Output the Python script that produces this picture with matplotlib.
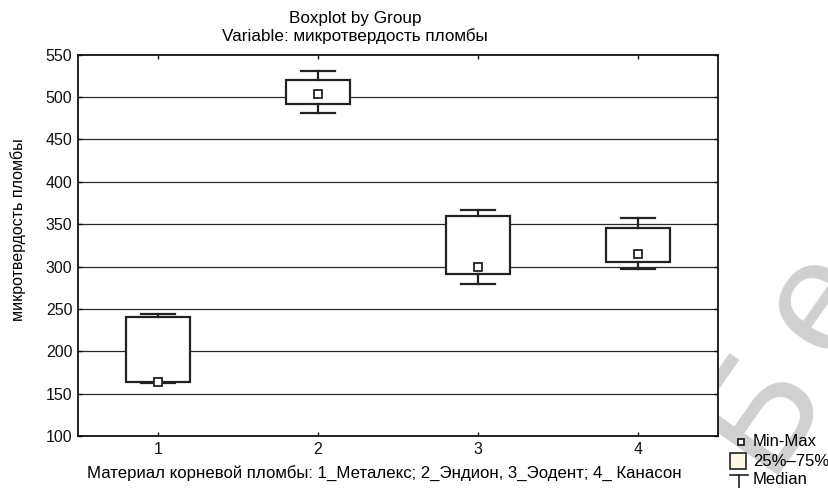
import matplotlib
matplotlib.use("Agg")
import matplotlib.pyplot as plt
from matplotlib.lines import Line2D
from matplotlib.patches import Rectangle

plt.rcParams['font.family'] = ['Liberation Sans', 'DejaVu Sans']

groups = [1, 2, 3, 4]
whisker_low = [163, 481, 279, 297]
q1 = [164, 492, 291, 305]
medians = [164, 504, 300, 315]
q3 = [240, 520, 360, 345]
whisker_high = [244, 531, 367, 357]
y_ticks = [100, 150, 200, 250, 300, 350, 400, 450, 500, 550]

title = "Boxplot by Group\nVariable: микротвердость пломбы"
ylabel = "микротвердость пломбы"
xlabel = "Материал корневой пломбы: 1_Металекс; 2_Эндион, 3_Эодент; 4_ Канасон"
legend_labels = ["Min-Max", "25%–75%", "Median"]
watermark_letters = ["Б", "е"]

W, H = 829, 488
fig = plt.figure(figsize=(W / 100, H / 100), dpi=100)
ax = fig.add_axes([0.094, 0.1066, 0.772, 0.7814])
ax.set_facecolor('white')

dark = '#222222'
for v in y_ticks[1:-1]:
    ax.axhline(v, color='#2a2a2a', lw=0.9, zorder=0.5)

stats = []
for i in range(len(groups)):
    stats.append(dict(med=medians[i], q1=q1[i], q3=q3[i],
                      whislo=whisker_low[i], whishi=whisker_high[i], fliers=[]))
ax.bxp(stats, positions=groups, widths=0.4, patch_artist=True, showfliers=False,
       boxprops=dict(facecolor='white', edgecolor=dark, linewidth=1.6),
       whiskerprops=dict(color=dark, linewidth=1.6),
       capprops=dict(color=dark, linewidth=1.6),
       medianprops=dict(linestyle='none'), capwidths=0.21, zorder=2)
ax.plot(groups, medians, 's', ms=5.5, mfc='white', mec=dark, mew=1.3, ls='none', zorder=3)

ax.set_ylim(100, 550)
ax.set_xlim(0.5, 4.5)
ax.set_yticks(y_ticks)
ax.set_xticks(groups, [str(g) for g in groups])
for sp in ax.spines.values():
    sp.set_linewidth(1.3)
    sp.set_color('#111111')
ax.tick_params(direction='in', top=True, right=True, length=3, width=1,
               labelsize=11.5, colors='#111111', pad=4)

fig.text(0.428, 0.978, title, ha='center', va='top', fontsize=12.3, linespacing=1.2)
fig.text(0.022, 0.53, ylabel, rotation=90, ha='center', va='center', fontsize=11.5)
fig.text(0.464, 0.03, xlabel, ha='center', va='center', fontsize=12.1)

def fx(px):
    return px / W

def fy(py):
    return 1 - py / H

# watermark (partially hidden behind the plot area, as in the reference)
for letter, (px, py) in zip(watermark_letters, [(762, 408), (820, 302)]):
    fig.text(fx(px), fy(py), letter, rotation=55, rotation_mode='anchor', fontsize=115,
             color='#d0d0d0', ha='center', va='center', zorder=-5)

# legend, drawn in figure pixel coordinates
fig.add_artist(Line2D([fx(741)], [fy(442)], marker='s', ms=5, mfc='white', mec=dark,
                      mew=1.3, ls='none', transform=fig.transFigure))
fig.add_artist(Rectangle((fx(730), fy(469)), fx(746) - fx(730), fy(453) - fy(469),
                         facecolor='#fdf7e6', edgecolor=dark, lw=1.2,
                         transform=fig.transFigure))
fig.add_artist(Line2D([fx(730), fx(748)], [fy(475), fy(475)], color=dark, lw=1.2,
                      transform=fig.transFigure))
fig.add_artist(Line2D([fx(739), fx(739)], [fy(475), fy(489)], color=dark, lw=1.2,
                      transform=fig.transFigure))
for lab, py in zip(legend_labels, [441, 461, 480]):
    fig.text(fx(753), fy(py), lab, ha='left', va='center', fontsize=12)

fig.savefig('out.png', dpi=100)
